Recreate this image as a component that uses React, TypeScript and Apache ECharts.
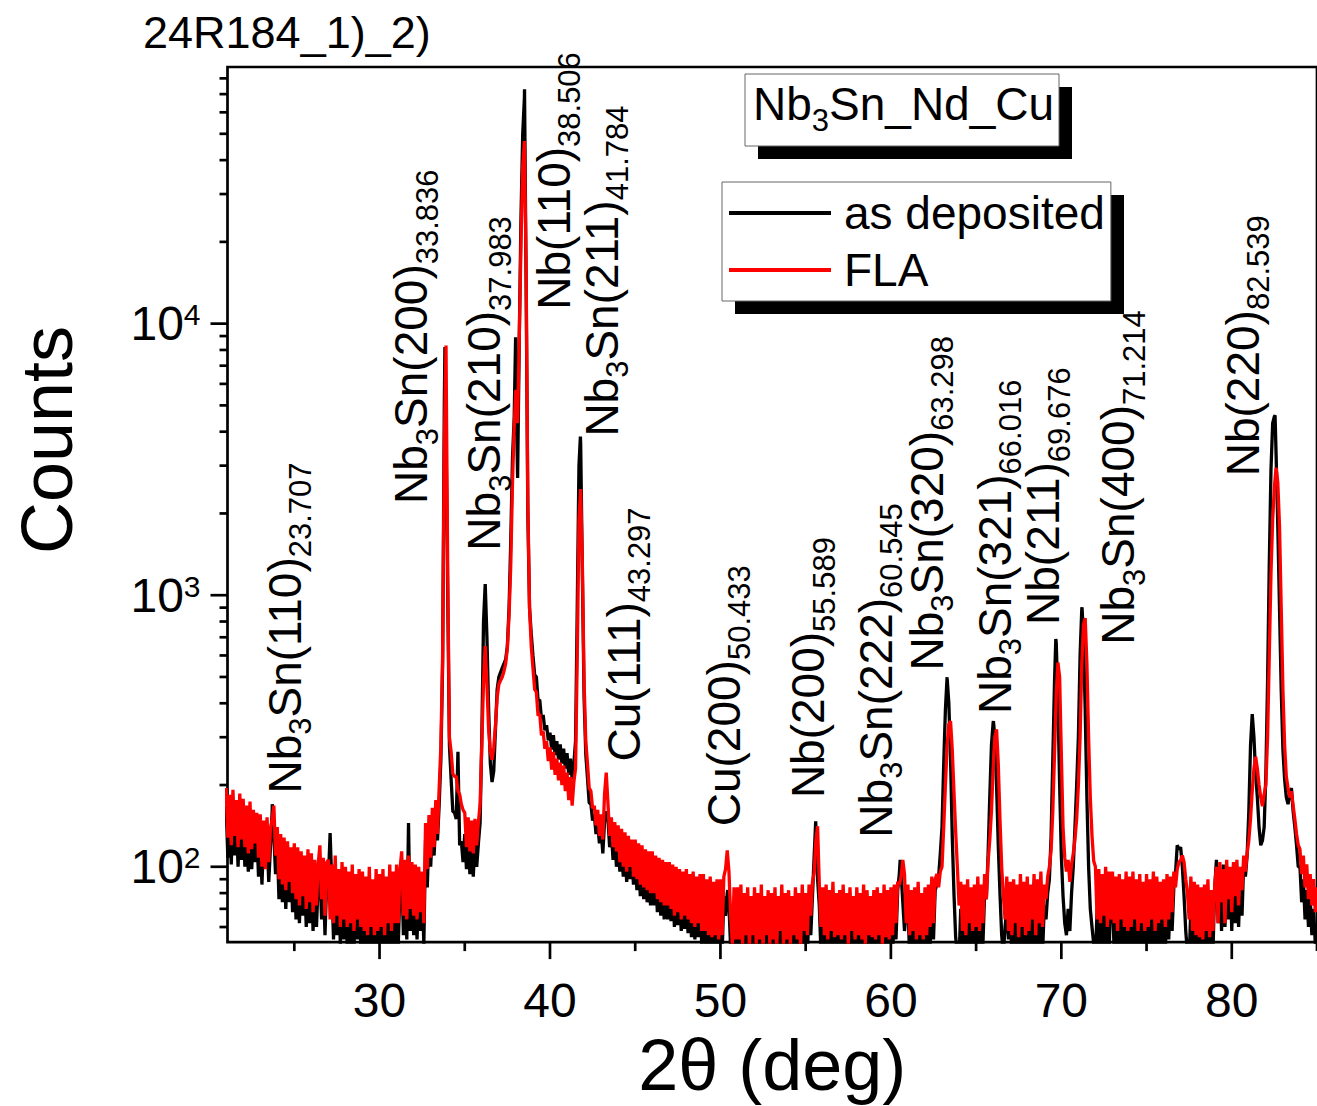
import { useEffect, useRef } from "react";
import * as echarts from "echarts";

const FONT = "'Liberation Sans', Arial, Helvetica, sans-serif";

// 2θ scan grid (deg)
const scanStart = 21.0;
const scanStep = 0.1;

// Counts per scan step, one row per degree (k.0 … k.9), as deposited
const countsAsDeposited = [
  168, 108, 156, 102, 164, 110, 150, 100, 158, 106,
  150, 100, 142, 96, 148, 98, 138, 104, 134, 92,
  132, 86, 126, 145, 128, 88, 118, 160, 130, 94,
  120, 76, 112, 74, 108, 70, 106, 74, 100, 68,
  104, 64, 100, 62, 96, 66, 94, 60, 98, 62,
  96, 58, 90, 60, 88, 98, 64, 92, 56, 88,
  90, 133, 86, 54, 94, 56, 84, 52, 88, 54,
  86, 51, 82, 52, 86, 50, 80, 54, 84, 50,
  82, 49, 78, 48, 84, 51, 76, 48, 82, 49,
  80, 50, 84, 47, 78, 52, 86, 49, 82, 52,
  86, 52, 84, 98, 56, 90, 54, 145, 58, 88,
  56, 86, 54, 84, 58, 82, 52, 125, 84, 132,
  100, 140, 110, 150, 125, 170, 250, 550, 5000, 4000,
  1000, 280, 210, 160, 158, 150, 265, 120, 124, 104,
  132, 98, 128, 94, 124, 92, 126, 100, 122, 145,
  300, 800, 1100, 700, 380, 240, 205, 225, 320, 450,
  500, 520, 540, 560, 580, 650, 900, 1600, 3200, 4500,
  6000, 2700, 9000, 25000, 50000, 68000, 14000, 2000, 900, 720,
  600, 510, 500, 410, 412, 350, 362, 318, 332, 292,
  312, 270, 305, 258, 290, 248, 282, 240, 272, 230,
  262, 218, 250, 210, 240, 290, 900, 3000, 3600, 1200,
  420, 260, 212, 172, 170, 148, 156, 132, 144, 122,
  138, 112, 146, 150, 150, 118, 134, 106, 128, 100,
  122, 96, 118, 92, 114, 88, 110, 90, 108, 86,
  108, 82, 104, 78, 102, 76, 98, 74, 96, 72,
  98, 72, 94, 68, 92, 66, 90, 64, 88, 64,
  88, 63, 86, 60, 84, 61, 82, 58, 80, 59,
  82, 57, 80, 55, 82, 54, 78, 55, 80, 52,
  80, 52, 76, 50, 78, 50, 74, 51, 76, 49,
  76, 48, 78, 66, 80, 72, 50, 44, 70, 45,
  72, 45, 74, 44, 68, 46, 72, 42, 66, 46,
  72, 44, 68, 46, 74, 42, 66, 46, 70, 44,
  68, 46, 72, 42, 66, 48, 74, 44, 68, 46,
  70, 44, 66, 46, 72, 46, 68, 42, 74, 48,
  68, 46, 74, 56, 78, 110, 140, 90, 72, 48,
  72, 46, 74, 44, 70, 48, 76, 45, 68, 46,
  70, 44, 74, 46, 68, 42, 72, 48, 66, 44,
  72, 46, 68, 44, 74, 42, 70, 46, 66, 45,
  70, 44, 72, 46, 68, 42, 74, 45, 70, 44,
  72, 46, 74, 54, 82, 95, 94, 74, 58, 70,
  74, 46, 70, 48, 72, 44, 76, 46, 68, 44,
  72, 46, 74, 50, 80, 54, 82, 86, 92, 112,
  140, 240, 380, 495, 400, 250, 130, 80, 55, 48,
  46, 70, 44, 72, 46, 74, 48, 70, 46, 72,
  50, 76, 48, 72, 52, 80, 76, 110, 180, 280,
  340, 300, 200, 120, 80, 56, 48, 60, 70, 54,
  74, 46, 76, 50, 72, 44, 78, 48, 74, 46,
  78, 46, 72, 52, 80, 46, 76, 50, 82, 48,
  72, 64, 80, 90, 130, 250, 480, 670, 420, 200,
  110, 78, 62, 56, 70, 58, 80, 100, 140, 200,
  300, 600, 890, 700, 380, 180, 100, 70, 60, 52,
  46, 70, 44, 74, 48, 76, 44, 72, 48, 78,
  80, 48, 76, 46, 78, 52, 74, 46, 80, 46,
  76, 48, 80, 52, 74, 46, 78, 50, 72, 46,
  78, 48, 74, 52, 80, 46, 76, 50, 72, 52,
  76, 48, 80, 54, 78, 58, 84, 95, 120, 116,
  118, 100, 78, 58, 48, 46, 70, 44, 68, 46,
  70, 44, 68, 42, 72, 46, 74, 44, 66, 50,
  84, 106, 62, 98, 58, 102, 60, 94, 64, 98,
  58, 96, 62, 100, 60, 92, 66, 104, 92, 110,
  160, 280, 365, 300, 220, 180, 140, 120, 125, 140,
  220, 480, 1300, 2900, 4300, 4550, 3300, 1800, 900, 450,
  270, 210, 180, 170, 185, 195, 160, 140, 120, 100,
  100, 74, 90, 64, 82, 60, 76, 56, 70, 52,
  62,
];

// Counts per scan step, one row per degree (k.0 … k.9), after flash lamp annealing
const countsFLA = [
  195, 128, 184, 120, 192, 130, 176, 118, 186, 126,
  178, 118, 168, 112, 174, 116, 162, 122, 158, 108,
  156, 100, 148, 98, 152, 104, 138, 150, 168, 110,
  140, 90, 132, 86, 128, 82, 124, 88, 118, 80,
  122, 76, 118, 72, 114, 78, 110, 70, 116, 74,
  112, 68, 106, 72, 102, 120, 76, 108, 66, 104,
  106, 64, 102, 62, 110, 66, 98, 60, 104, 64,
  100, 60, 96, 62, 102, 58, 94, 64, 98, 60,
  96, 58, 92, 56, 100, 60, 90, 56, 98, 58,
  94, 60, 98, 56, 92, 62, 102, 58, 96, 62,
  102, 62, 98, 114, 66, 106, 64, 110, 70, 104,
  66, 102, 64, 100, 68, 96, 62, 145, 98, 155,
  108, 165, 118, 176, 132, 196, 280, 600, 3500, 8300,
  1200, 300, 265, 220, 215, 215, 190, 185, 170, 162,
  158, 118, 152, 114, 148, 112, 150, 120, 146, 170,
  280, 480, 650, 470, 320, 265, 248, 275, 330, 420,
  470, 485, 500, 525, 560, 640, 850, 1300, 2600, 4200,
  5700, 4300, 9000, 20000, 38000, 47000, 16000, 2200, 900, 650,
  540, 450, 440, 360, 365, 305, 315, 272, 290, 245,
  275, 228, 265, 218, 250, 208, 242, 200, 236, 190,
  222, 176, 214, 168, 205, 230, 600, 1900, 2460, 1300,
  480, 290, 240, 195, 190, 164, 168, 142, 162, 130,
  156, 126, 185, 222, 172, 130, 152, 118, 146, 114,
  142, 104, 138, 100, 134, 96, 130, 100, 126, 92,
  126, 90, 122, 86, 120, 84, 116, 82, 114, 80,
  114, 80, 110, 76, 108, 74, 106, 72, 104, 72,
  104, 70, 102, 66, 100, 68, 98, 64, 96, 66,
  98, 64, 94, 62, 96, 60, 92, 62, 94, 58,
  94, 58, 90, 56, 92, 55, 88, 56, 90, 54,
  90, 56, 92, 98, 115, 96, 66, 52, 84, 54,
  84, 54, 86, 52, 80, 56, 84, 50, 78, 56,
  84, 52, 80, 54, 86, 50, 78, 56, 82, 52,
  80, 54, 84, 50, 78, 58, 86, 52, 80, 54,
  82, 52, 78, 56, 84, 54, 80, 50, 86, 58,
  80, 56, 86, 66, 88, 95, 125, 141, 86, 60,
  84, 56, 86, 54, 82, 58, 88, 55, 80, 56,
  82, 54, 86, 56, 80, 52, 84, 58, 78, 54,
  84, 56, 80, 54, 86, 52, 82, 56, 78, 55,
  82, 54, 84, 56, 80, 52, 86, 55, 82, 54,
  84, 56, 86, 62, 88, 86, 92, 106, 94, 62,
  86, 56, 82, 58, 84, 54, 88, 56, 80, 54,
  84, 56, 86, 60, 92, 62, 90, 94, 84, 96,
  100, 140, 200, 280, 335, 344, 270, 190, 135, 100,
  72, 88, 58, 86, 56, 90, 62, 84, 58, 86,
  60, 92, 58, 86, 62, 94, 76, 104, 125, 160,
  230, 300, 321, 240, 150, 100, 78, 64, 92, 58,
  88, 56, 90, 62, 86, 55, 94, 60, 88, 56,
  92, 58, 86, 64, 94, 56, 90, 62, 96, 60,
  86, 76, 92, 100, 115, 160, 260, 430, 565, 500,
  260, 140, 108, 96, 106, 88, 102, 112, 126, 150,
  200, 300, 560, 780, 823, 560, 300, 180, 130, 105,
  100, 64, 98, 62, 94, 66, 100, 60, 96, 64,
  96, 62, 92, 58, 94, 64, 90, 60, 96, 58,
  92, 60, 96, 64, 90, 58, 94, 62, 88, 58,
  94, 60, 90, 64, 96, 58, 92, 62, 88, 64,
  90, 60, 94, 64, 92, 68, 96, 84, 98, 104,
  106, 110, 104, 90, 80, 64, 92, 58, 88, 56,
  86, 55, 84, 54, 86, 58, 90, 55, 82, 58,
  86, 100, 62, 104, 74, 98, 62, 106, 76, 100,
  68, 104, 78, 106, 72, 100, 82, 110, 96, 112,
  125, 150, 190, 230, 254, 230, 200, 180, 167, 185,
  200, 300, 600, 1200, 1900, 2500, 2950, 2600, 1800, 900,
  450, 280, 215, 195, 180, 190, 168, 150, 132, 120,
  116, 94, 110, 84, 102, 76, 94, 72, 90, 68,
  84,
];

// Indexed reflections
const peakPhase = ["Nb3Sn", "Nb3Sn", "Nb3Sn", "Nb", "Nb3Sn", "Cu", "Cu", "Nb", "Nb3Sn", "Nb3Sn", "Nb3Sn", "Nb", "Nb3Sn", "Nb"];
const peakHkl = ["(110)", "(200)", "(210)", "(110)", "(211)", "(111)", "(200)", "(200)", "(222)", "(320)", "(321)", "(211)", "(400)", "(220)"];
const peakTwoTheta = [23.707, 33.836, 37.983, 38.506, 41.784, 43.297, 50.433, 55.589, 60.545, 63.298, 66.016, 69.676, 71.214, 82.539];
// as-deposited counts at the fitted peak positions
const peakCountsAsDeposited = [170, 8200, 8900, 73000, 3840, 160, 82, 147, 106, 499, 344, 690, 902, 4600];

// Where each rotated label starts (its lower end), in 2θ / counts
const labelAnchorTwoTheta = [24.44, 31.87, 36.14, 40.23, 43.04, 44.33, 50.18, 55.15, 59.12, 62.1, 66.08, 68.95, 73.33, 80.64];
const labelAnchorCounts = [186, 2168, 1459, 11250, 3837, 244, 141, 179, 128, 528, 365, 777, 657, 2741];

// Axis ticks
const xMajorTicks = [30, 40, 50, 60, 70, 80];
const xMinorTicks = [25, 35, 45, 55, 65, 75, 85];
const yMajorTicks = [100, 1000, 10000];
const yMinorTicks = [
  60, 70, 80, 90,
  200, 300, 400, 500, 600, 700, 800, 900,
  2000, 3000, 4000, 5000, 6000, 7000, 8000, 9000,
  20000, 30000, 40000, 50000, 60000, 70000, 80000,
];

const X_MIN = 21.08;
const X_MAX = 85;
const Y_MIN = 52.8;
const Y_MAX = 88100;

const seriesNames = ["as deposited", "FLA"];
const sampleName = "24R184_1)_2)";
const sampleSystem = "Nb3Sn_Nd_Cu";

const scanTwoTheta = countsFLA.map((_, i) => Number((scanStart + i * scanStep).toFixed(1)));
const flaPoints = countsFLA.map((c, i) => [scanTwoTheta[i], c]);
const asDepositedPoints = countsAsDeposited
  .map((c, i) => [scanTwoTheta[i], c])
  .concat(peakTwoTheta.map((t, i) => [t, peakCountsAsDeposited[i]]))
  .sort((a, b) => a[0] - b[0]);

// --- text with subscripts, laid out as runs of plain text elements ---
const MAIN_SIZE = 46;
const SUB_SIZE = 31;
const SUB_SHIFT = 16; // subscript centre below the main-text centre

type Run = { t: string; sub: boolean };

// "Nb3Sn…" → Nb, ₃, Sn…  (only digits right after a letter are subscripts)
function formulaRuns(s: string): Run[] {
  const runs: Run[] = [];
  const re = /(\d+)/g;
  let last = 0;
  let m: RegExpExecArray | null;
  while ((m = re.exec(s))) {
    const prev = s[m.index - 1];
    if (prev && /[A-Za-z]/.test(prev)) {
      if (m.index > last) runs.push({ t: s.slice(last, m.index), sub: false });
      runs.push({ t: m[1], sub: true });
      last = m.index + m[1].length;
    }
  }
  if (last < s.length) runs.push({ t: s.slice(last), sub: false });
  return runs;
}

const peakLabelRuns: Run[][] = peakPhase.map((ph, i) => [
  ...formulaRuns(ph + peakHkl[i]),
  { t: peakTwoTheta[i].toFixed(3), sub: true },
]);

let measureCtx: CanvasRenderingContext2D | null = null;
function textWidth(t: string, size: number) {
  if (!measureCtx) measureCtx = document.createElement("canvas").getContext("2d");
  if (!measureCtx) return t.length * size * 0.55;
  measureCtx.font = `${size}px ${FONT}`;
  return measureCtx.measureText(t).width;
}

function runChildren(runs: Run[], z?: number) {
  let x = 0;
  return runs.map((r) => {
    const size = r.sub ? SUB_SIZE : MAIN_SIZE;
    const el: any = {
      type: "text",
      x,
      y: r.sub ? SUB_SHIFT : 0,
      style: { text: r.t, fontSize: size, fontFamily: FONT, fill: "#000", align: "left", verticalAlign: "middle" },
    };
    if (z !== undefined) el.z = z;
    x += textWidth(r.t, size);
    return el;
  });
}

function tickSeries(points: number[][], horizontal: boolean, len: number) {
  return {
    type: "custom",
    silent: true,
    z: 6,
    data: points,
    renderItem: (_params: any, api: any) => {
      const p = api.coord([api.value(0), api.value(1)]);
      const shape = horizontal
        ? { x1: p[0] - len, y1: p[1], x2: p[0], y2: p[1] }
        : { x1: p[0], y1: p[1], x2: p[0], y2: p[1] + len };
      return { type: "line", shape, style: { stroke: "#000", lineWidth: 2.7 } };
    },
  };
}

export default function App() {
  const ref = useRef<HTMLDivElement>(null);

  useEffect(() => {
    if (!ref.current) return;
    const chart = echarts.init(ref.current, undefined, { renderer: "svg" });

    const option: any = {
      animation: false,
      backgroundColor: "#fff",
      grid: {
        left: 227.5,
        top: 67,
        width: 1093,
        height: 883,
        show: true,
        borderColor: "#000",
        borderWidth: 2.7,
        backgroundColor: "transparent",
      },
      xAxis: {
        type: "value",
        min: X_MIN,
        max: X_MAX,
        axisLine: { show: false },
        axisTick: { show: false },
        splitLine: { show: false },
        axisLabel: {
          showMinLabel: false,
          showMaxLabel: false,
          fontSize: 48,
          fontFamily: FONT,
          color: "#000",
          margin: 58,
          verticalAlign: "middle",
        },
        name: "2θ (deg)",
        nameLocation: "middle",
        nameGap: 111,
        nameTextStyle: { fontSize: 72, fontFamily: FONT, color: "#000", verticalAlign: "middle" },
      },
      yAxis: {
        type: "log",
        logBase: 10,
        min: Y_MIN,
        max: Y_MAX,
        axisLine: { show: false },
        axisTick: { show: false },
        splitLine: { show: false },
        axisLabel: {
          showMinLabel: false,
          showMaxLabel: false,
          margin: 27,
          formatter: (v: number) => {
            const e = Math.round(Math.log10(v));
            if (Math.abs(Math.pow(10, e) - v) > 1e-6 * v) return "";
            return `{b|10}{s|${e}}`;
          },
          rich: {
            b: { fontSize: 48, lineHeight: 48, fontFamily: FONT, color: "#000" },
            s: { fontSize: 30, lineHeight: 26, verticalAlign: "top", fontFamily: FONT, color: "#000" },
          },
        },
      },
      legend: {
        data: seriesNames,
        orient: "vertical",
        left: 722,
        top: 182,
        padding: [6, 6, 6, 7],
        itemGap: 7,
        itemWidth: 102,
        itemHeight: 4,
        icon: "rect",
        backgroundColor: "#fff",
        borderColor: "#666",
        borderWidth: 1,
        borderRadius: 0,
        selectedMode: false,
        z: 4,
        textStyle: { fontSize: 46, lineHeight: 50, fontFamily: FONT, color: "#000", padding: [0, 0, 0, 8] },
      },
      graphic: [
        {
          type: "text",
          x: 143,
          y: 32,
          z: 5,
          style: { text: sampleName, fontSize: 45, fontFamily: FONT, fill: "#000", align: "left", verticalAlign: "middle" },
        },
        { type: "rect", z: 3, shape: { x: 735, y: 195, width: 389, height: 119 }, style: { fill: "#000" } },
        { type: "rect", z: 3, shape: { x: 758, y: 87, width: 314, height: 72 }, style: { fill: "#000" } },
        {
          type: "rect",
          z: 4,
          shape: { x: 745, y: 74, width: 314, height: 72 },
          style: { fill: "#fff", stroke: "#666", lineWidth: 1 },
        },
        {
          type: "group",
          x: 753,
          y: 104,
          z: 6,
          children: runChildren(formulaRuns(sampleSystem), 6),
        },
        {
          type: "text",
          x: 47,
          y: 440,
          rotation: Math.PI / 2,
          z: 5,
          style: { text: "Counts", fontSize: 72, fontFamily: FONT, fill: "#000", align: "center", verticalAlign: "middle" },
        },
      ],
      series: [
        {
          name: seriesNames[0],
          type: "line",
          data: asDepositedPoints,
          symbol: "none",
          showSymbol: false,
          color: "#000",
          lineStyle: { width: 3.3, color: "#000" },
          z: 2,
        },
        {
          name: seriesNames[1],
          type: "line",
          data: flaPoints,
          symbol: "none",
          showSymbol: false,
          color: "#ff0000",
          lineStyle: { width: 3.3, color: "#ff0000" },
          z: 3,
        },
        {
          type: "custom",
          silent: true,
          z: 5,
          data: labelAnchorTwoTheta.map((t, i) => [t, labelAnchorCounts[i]]),
          renderItem: (params: any, api: any) => {
            const p = api.coord([api.value(0), api.value(1)]);
            return {
              type: "group",
              x: p[0],
              y: p[1],
              rotation: Math.PI / 2,
              children: runChildren(peakLabelRuns[params.dataIndex]),
            };
          },
        },
        tickSeries(xMajorTicks.map((v) => [v, Y_MIN]), false, 17),
        tickSeries(xMinorTicks.map((v) => [v, Y_MIN]), false, 9),
        tickSeries(yMajorTicks.map((v) => [X_MIN, v]), true, 17),
        tickSeries(yMinorTicks.map((v) => [X_MIN, v]), true, 8),
      ],
    };

    chart.setOption(option);
    return () => chart.dispose();
  }, []);

  return (
    <div
      ref={ref}
      style={{ position: "fixed", left: 0, top: 0, width: 1317, height: 1106, background: "#fff" }}
    />
  );
}
